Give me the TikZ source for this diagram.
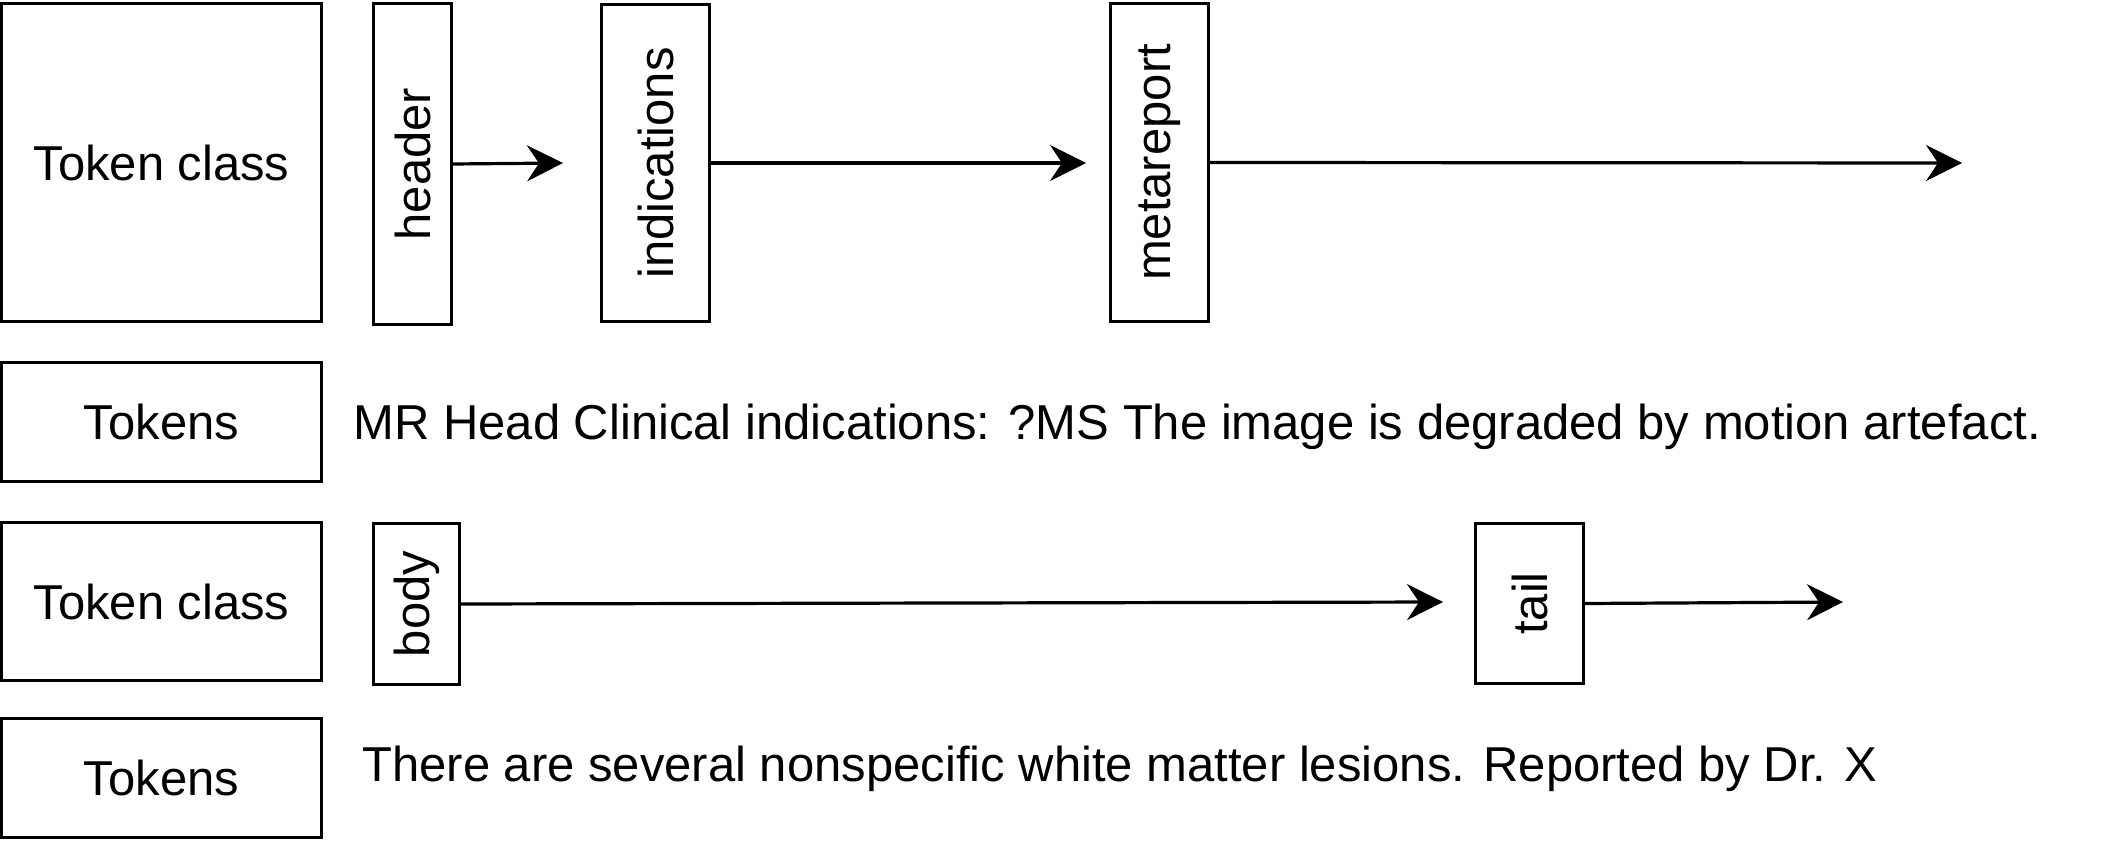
\documentclass[tikz,border=0pt]{standalone}
\usepackage{fontspec}
\setmainfont{Liberation Sans}
\usetikzlibrary{arrows.meta}
\begin{document}
\begin{tikzpicture}[x=0.5pt,y=-0.5pt,
  box/.style={draw,line width=1.6pt,inner sep=0pt,font=\fontsize{24.5}{28}\selectfont},
  vbox/.style={box,rotate=90},
  lbl/.style={inner sep=0pt,font=\fontsize{24.5}{28}\selectfont},
  arr/.style={line width=1.6pt,-{Stealth[length=18pt,width=18pt,inset=6pt]}}]
\useasboundingbox (0,0) rectangle (2108,844);
% left column
\node[box,minimum width=160pt,minimum height=159pt] (tc1) at (161.5,162.5) {Token class};
\node[box,minimum width=160pt,minimum height=59.5pt] (tok1) at (161.5,422) {Tokens};
\node[box,minimum width=160pt,minimum height=79pt] (tc2) at (161.5,601.5) {Token class};
\node[box,minimum width=160pt,minimum height=59.5pt] (tok2) at (161.5,778) {Tokens};
% row 1 classes (rotated: width<->height swapped)
\node[vbox,minimum width=160.5pt,minimum height=39pt] (header) at (412.5,164) {header};
\node[vbox,minimum width=158.5pt,minimum height=54pt] (ind) at (655.5,163) {indications};
\node[vbox,minimum width=159pt,minimum height=49pt] (meta) at (1159.5,162.5) {metareport};
\coordinate (end1) at (1962,163);
% row 2 classes
\node[vbox,minimum width=80.5pt,minimum height=43pt] (body) at (416.5,604) {body};
\node[vbox,minimum width=80pt,minimum height=54pt] (tail) at (1529.5,603.5) {tail};
\coordinate (end2) at (1843,602);
% texts
\node[lbl,anchor=base west] (t1) at (353,439) {MR Head Clinical indications: ?MS The image is degraded by motion artefact.};
\node[lbl,anchor=base west] (t2) at (362,781) {There are several nonspecific white matter lesions. Reported by Dr. X};
% arrows
\draw[arr] (header.south) -- (563,163);
\draw[arr] (ind.south) -- (1086,163);
\draw[arr] (meta.south) -- (end1);
\draw[arr] (body.south) -- (1443,602);
\draw[arr] (tail.south) -- (end2);
\end{tikzpicture}
\end{document}
